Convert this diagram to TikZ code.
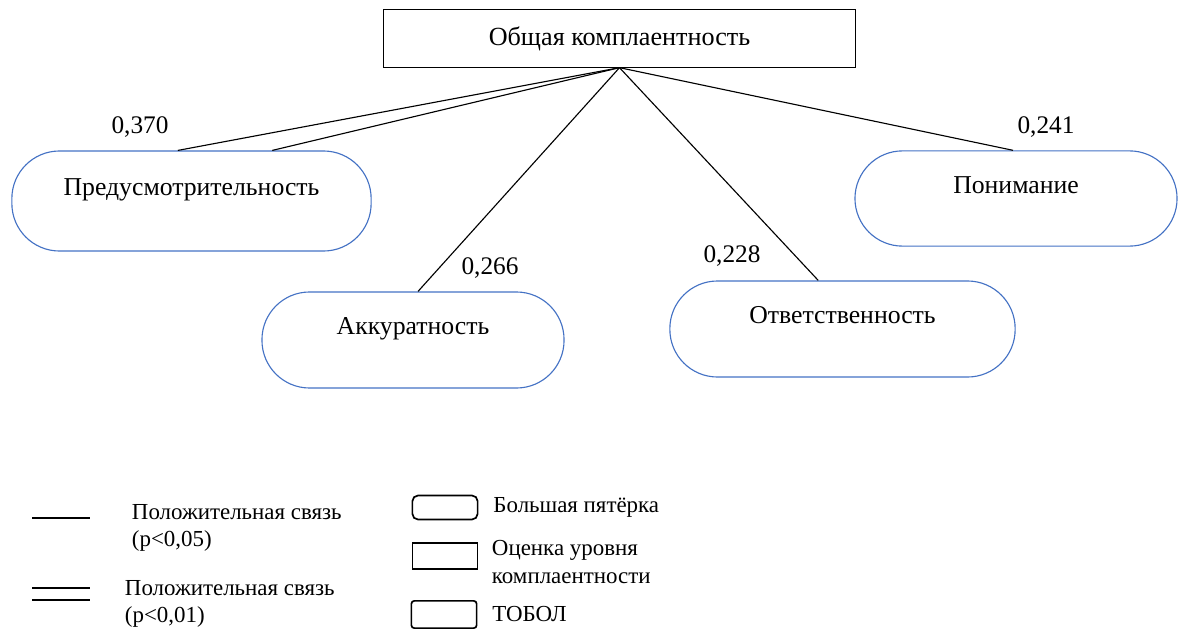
\documentclass[tikz,border=0pt]{standalone}
\usepackage{fontspec}
\setmainfont{Liberation Serif}
\usepackage{tikz}
\usetikzlibrary{positioning,calc}
\definecolor{bigfive}{HTML}{4472C4}

\begin{document}
\begin{tikzpicture}[x=0.025cm,y=-0.025cm,
    total/.style={rectangle,draw,line width=0.8pt,minimum width=11.78cm,minimum height=1.43cm,font=\fontsize{18.6}{22}\selectfont},
    stadium/.style={rectangle,draw=bigfive,line width=0.8pt,rounded corners=1.19cm,minimum height=2.4cm,font=\fontsize{18.3}{22}\selectfont,text height=0.5cm,text depth=0.76cm},
    coef/.style={font=\fontsize{18}{21}\selectfont},
    lgtext/.style={anchor=west,align=left,font=\fontsize{16.3}{19.5}\selectfont},
    lgbox/.style={draw,line width=1.2pt,minimum width=1.63cm,minimum height=0.6cm},
    link/.style={line width=0.8pt}]
\useasboundingbox (0,0) rectangle (1181,630);

% Overall compliance
\node[total] (total) at (619.5,38.5) {Общая комплаентность};

% Big Five traits
\node[stadium,minimum width=8.98cm,minimum height=2.5cm] (pred) at (191.5,201) {Предусмотрительность};
\node[stadium,minimum width=7.55cm] (akk) at (413,340) {Аккуратность};
\node[stadium,minimum width=8.63cm] (otv) at (842.5,329) {Ответственность};
\node[stadium,minimum width=8.05cm,minimum height=2.38cm] (pon) at (1016,198.5) {Понимание};

% Coefficients
\node[coef] (c370) at (140,127) {0,370};
\node[coef] (c266) at (490,268) {0,266};
\node[coef] (c228) at (732,256) {0,228};
\node[coef] (c241) at (1046,127) {0,241};

\draw[link] (total.south) -- ($(pred.north west)!0.462!(pred.north east)$);
\draw[link] (total.south) -- ($(pred.north west)!0.724!(pred.north east)$);
\draw[link] (total.south) -- ($(akk.north)+(5,0)$);
\draw[link] (total.south) -- ($(otv.north west)!0.43!(otv.north east)$);
\draw[link] (total.south) -- ($(pon.north)+(-3,0)$);

% Legend
\coordinate (l1a) at (32,518);
\coordinate (l1b) at (90,518);
\draw[line width=1.2pt] (l1a) -- (l1b);
\node[lgtext] (lg1) at (127,528) {Положительная связь\\(p<0,05)};

\coordinate (l2a) at (32,588);
\coordinate (l2b) at (90,588);
\draw[line width=1.2pt] (l2a) -- (l2b);
\draw[line width=1.2pt] ($(l2a)+(0,12)$) -- ($(l2b)+(0,12)$);
\node[lgtext] (lg2) at (120,604) {Положительная связь\\(p<0,01)};

\node[lgbox,rounded corners=4pt] (b1) at (445,507.5) {};
\node[lgtext,right=0.25cm of b1] (lg3) {Большая пятёрка};
\node[lgbox,minimum height=0.65cm] (b2) at (445,556) {};
\node[lgtext] (lg4) at (487,562) {Оценка уровня\\комплаентности};
\node[lgbox,rounded corners=2pt,minimum height=0.68cm] (b3) at (444,614.5) {};
\node[lgtext,right=0.25cm of b3] (lg5) {ТОБОЛ};

\end{tikzpicture}
\end{document}
